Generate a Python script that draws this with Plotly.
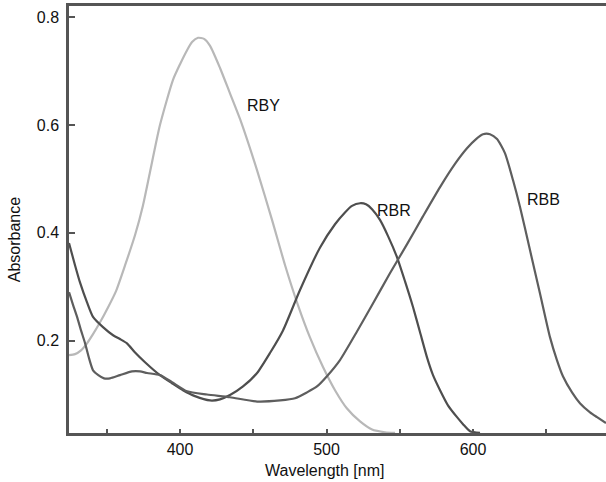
import plotly.graph_objects as go

# Absorption spectra of three reactive dyes (wavelength in nm, absorbance)
rby_nm = [324.2, 328.3, 332.4, 336.5, 340.6, 345.4, 350.9, 356.3, 362.5, 369.3, 374.7,
          379.5, 386.3, 395.2, 400.0, 404.8, 408.2, 412.3, 416.4, 420.5, 427.3, 434.1,
          441.0, 452.6, 462.8, 471.7, 480.5, 488.7, 497.6, 505.8, 514.0, 522.9, 531.1,
          539.9, 546.8]
rby_abs = [0.173, 0.175, 0.182, 0.195, 0.212, 0.234, 0.262, 0.292, 0.340, 0.396, 0.451,
           0.513, 0.600, 0.684, 0.713, 0.739, 0.754, 0.762, 0.760, 0.747, 0.706, 0.659,
           0.611, 0.516, 0.424, 0.340, 0.266, 0.206, 0.151, 0.108, 0.074, 0.050, 0.035,
           0.030, 0.029]

rbr_nm = [324.2, 328.3, 331.7, 336.5, 340.6, 347.4, 354.3, 359.0, 363.8, 369.3, 376.1,
          386.3, 394.5, 402.0, 410.2, 420.5, 427.3, 434.1, 443.0, 452.6, 461.4, 470.3,
          481.9, 495.6, 505.8, 512.6, 517.4, 522.9, 527.0, 531.1, 536.5, 542.0, 548.1,
          553.6, 559.1, 563.8, 568.6, 572.7, 577.5, 582.9, 589.1, 593.2, 598.0, 604.8]
rbr_abs = [0.381, 0.340, 0.308, 0.271, 0.244, 0.225, 0.210, 0.203, 0.195, 0.178, 0.160,
           0.136, 0.121, 0.108, 0.097, 0.089, 0.091, 0.099, 0.115, 0.140, 0.177, 0.219,
           0.294, 0.373, 0.416, 0.438, 0.450, 0.455, 0.453, 0.444, 0.424, 0.394, 0.355,
           0.310, 0.262, 0.216, 0.169, 0.136, 0.108, 0.080, 0.058, 0.045, 0.032, 0.029]

rbb_nm = [324.2, 327.0, 329.7, 332.4, 335.2, 337.9, 340.6, 344.2, 348.1, 352.2, 359.0,
          367.2, 372.7, 377.5, 386.3, 394.5, 404.8, 418.4, 434.1, 452.6, 468.3, 478.5,
          486.7, 493.5, 500.3, 509.2, 520.8, 531.7, 543.3, 555.0, 565.9, 577.5, 587.7,
          595.9, 602.1, 606.8, 611.6, 616.4, 621.8, 627.3, 632.1, 638.9, 645.7, 652.6,
          657.3, 661.4, 667.6, 673.0, 679.9, 684.7, 690.8]
rbb_abs = [0.290, 0.266, 0.244, 0.219, 0.195, 0.167, 0.145, 0.136, 0.130, 0.130, 0.136,
           0.143, 0.143, 0.140, 0.136, 0.123, 0.106, 0.100, 0.095, 0.087, 0.089, 0.093,
           0.104, 0.115, 0.134, 0.164, 0.217, 0.269, 0.325, 0.379, 0.431, 0.485, 0.528,
           0.557, 0.574, 0.583, 0.583, 0.574, 0.548, 0.498, 0.448, 0.368, 0.288, 0.206,
           0.164, 0.134, 0.104, 0.084, 0.067, 0.058, 0.047]

series = [
    ("RBY", rby_nm, rby_abs, "#b8b8b8"),
    ("RBR", rbr_nm, rbr_abs, "#4e4e4e"),
    ("RBB", rbb_nm, rbb_abs, "#5e5e5e"),
]

# Curve labels: (text, wavelength, absorbance)
labels = [("RBY", 457.3, 0.637), ("RBR", 546.1, 0.442), ("RBB", 647.8, 0.461)]

x_title = "Wavelength [nm]"
y_title = "Absorbance"

FONT = "Liberation Sans, Arial, sans-serif"
TEXT_COL = "#111111"
FS = 16

fig = go.Figure()
for name, xs, ys, col in series:
    fig.add_trace(go.Scatter(x=xs, y=ys, mode="lines", name=name,
                             line=dict(color=col, width=2.2, shape="spline", smoothing=0.6),
                             hoverinfo="skip"))

for txt, lx, ly in labels:
    fig.add_annotation(x=lx, y=ly, text=txt, showarrow=False,
                       font=dict(family=FONT, size=FS, color=TEXT_COL))

fig.add_annotation(xref="paper", yref="paper", x=0.475, y=-0.087, text=x_title,
                   showarrow=False, yanchor="middle",
                   font=dict(family=FONT, size=FS, color=TEXT_COL))
fig.add_annotation(xref="paper", yref="paper", x=-0.10, y=0.452, text=y_title,
                   showarrow=False, textangle=-90, xanchor="center",
                   font=dict(family=FONT, size=FS, color=TEXT_COL))

axis_col = "#555555"
fig.update_layout(
    width=606, height=482,
    margin=dict(l=69, r=0, t=6, b=49),
    paper_bgcolor="white", plot_bgcolor="white",
    showlegend=False,
    font=dict(family=FONT, size=FS, color=TEXT_COL),
    xaxis=dict(range=[324.2, 690.8], tick0=0, dtick=100, ticks="inside", ticklen=4,
               tickcolor=axis_col, tickwidth=1.5, showgrid=False, zeroline=False,
               showline=True, linecolor=axis_col, linewidth=2.5, mirror=True,
               minor=dict(dtick=50, ticks="inside", ticklen=4, tickcolor=axis_col, tickwidth=1.5)),
    yaxis=dict(range=[0.0286, 0.821], tick0=0.2, dtick=0.2, tickformat=".1f",
               ticks="inside", ticklen=6, tickcolor=axis_col, tickwidth=1.5,
               ticklabelstandoff=4,
               showgrid=False, zeroline=False, showline=True, linecolor=axis_col,
               linewidth=2.5),
)

fig.write_html("out.html")
